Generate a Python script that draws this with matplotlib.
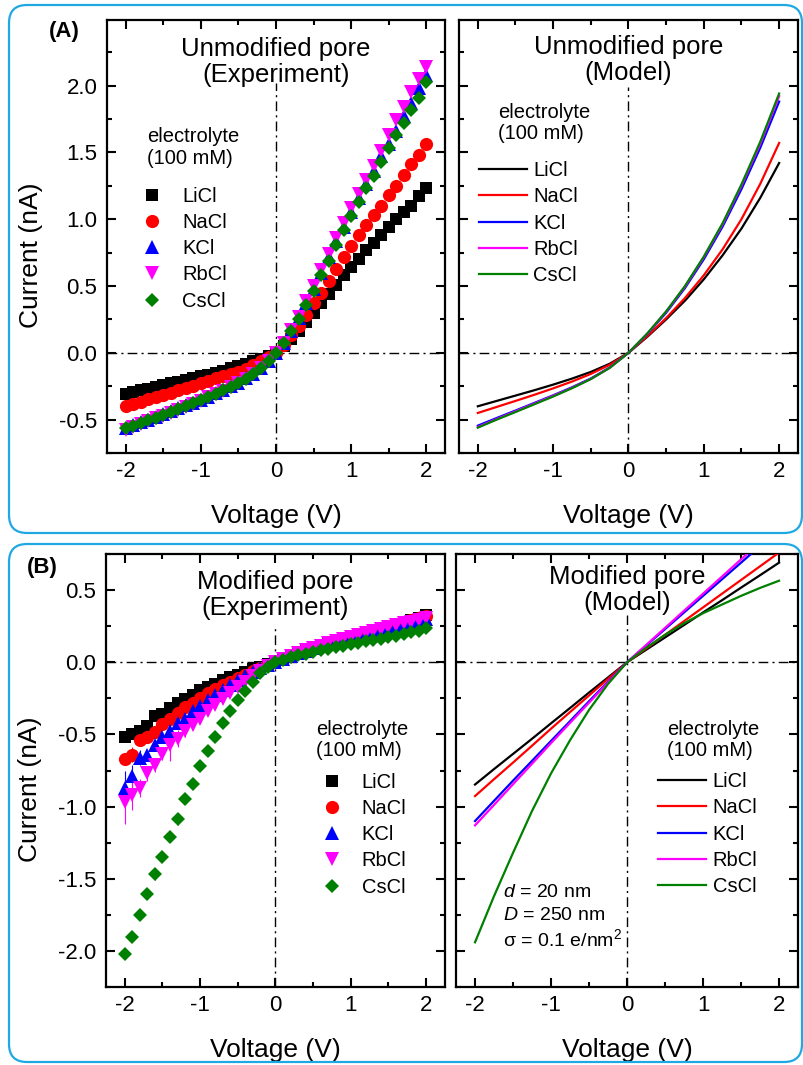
import numpy as np
import matplotlib
matplotlib.use("Agg")
import matplotlib.pyplot as plt
from matplotlib.lines import Line2D
from matplotlib.patches import FancyBboxPatch
from matplotlib.transforms import IdentityTransform
from matplotlib.ticker import MultipleLocator, FormatStrFormatter

plt.rcParams['font.family'] = ['Liberation Sans', 'DejaVu Sans']
plt.rcParams['axes.unicode_minus'] = False
plt.rcParams['mathtext.fontset'] = 'custom'
plt.rcParams['mathtext.rm'] = 'Liberation Sans'
plt.rcParams['mathtext.it'] = 'Liberation Sans:italic'

salts = ['LiCl', 'NaCl', 'KCl', 'RbCl', 'CsCl']
colors = ['black', 'red', 'blue', '#FF00FF', 'green']
markers = ['s', 'o', '^', 'v', 'D']
msizes = [8.0, 9.5, 9.5, 9.5, 7.2]

# measured voltages (V)
volt = [-2.0, -1.9, -1.8, -1.7, -1.6, -1.5, -1.4, -1.3, -1.2, -1.1, -1.0,
        -0.9, -0.8, -0.7, -0.6, -0.5, -0.4, -0.3, -0.2, -0.1, 0.0,
        0.1, 0.2, 0.3, 0.4, 0.5, 0.6, 0.7, 0.8, 0.9, 1.0,
        1.1, 1.2, 1.3, 1.4, 1.5, 1.6, 1.7, 1.8, 1.9, 2.0]
# model voltages (V)
volt_model = [-2.0, -1.75, -1.5, -1.25, -1.0, -0.75, -0.5, -0.25, 0.0,
              0.25, 0.5, 0.75, 1.0, 1.25, 1.5, 1.75, 2.0]

# (A) unmodified pore, experiment (nA)
unmod_licl = [-0.305, -0.293, -0.281, -0.268, -0.255, -0.242, -0.229, -0.216, -0.203, -0.190, -0.177,
              -0.163, -0.149, -0.133, -0.117, -0.100, -0.083, -0.064, -0.044, -0.022, 0.0,
              0.05, 0.10, 0.16, 0.23, 0.30, 0.37, 0.44, 0.51, 0.58, 0.64,
              0.70, 0.77, 0.82, 0.88, 0.94, 1.00, 1.05, 1.10, 1.17, 1.23]
unmod_nacl = [-0.400, -0.383, -0.366, -0.349, -0.333, -0.316, -0.299, -0.281, -0.263, -0.245, -0.227,
              -0.210, -0.192, -0.174, -0.157, -0.140, -0.118, -0.092, -0.064, -0.033, 0.0,
              0.06, 0.13, 0.20, 0.28, 0.37, 0.45, 0.54, 0.63, 0.715, 0.80,
              0.88, 0.955, 1.03, 1.10, 1.18, 1.25, 1.33, 1.41, 1.48, 1.56]
unmod_kcl = [-0.560, -0.540, -0.520, -0.500, -0.480, -0.460, -0.438, -0.416, -0.394, -0.372, -0.350,
             -0.327, -0.303, -0.278, -0.252, -0.225, -0.192, -0.155, -0.110, -0.058, 0.0,
             0.07, 0.165, 0.26, 0.37, 0.48, 0.60, 0.715, 0.835, 0.945, 1.05,
             1.16, 1.26, 1.36, 1.47, 1.56, 1.66, 1.77, 1.87, 1.98, 2.08]
unmod_rbcl = [-0.575, -0.553, -0.532, -0.512, -0.491, -0.470, -0.448, -0.425, -0.403, -0.380, -0.357,
              -0.333, -0.309, -0.283, -0.256, -0.228, -0.195, -0.157, -0.112, -0.059, 0.0,
              0.075, 0.17, 0.27, 0.39, 0.50, 0.62, 0.74, 0.86, 0.97, 1.08,
              1.19, 1.29, 1.40, 1.51, 1.63, 1.74, 1.84, 1.95, 2.05, 2.14]
unmod_cscl = [-0.565, -0.545, -0.525, -0.505, -0.485, -0.463, -0.441, -0.419, -0.397, -0.374, -0.352,
              -0.329, -0.305, -0.280, -0.254, -0.227, -0.194, -0.156, -0.111, -0.058, 0.0,
              0.07, 0.16, 0.25, 0.36, 0.46, 0.58, 0.69, 0.81, 0.92, 1.02,
              1.13, 1.23, 1.32, 1.43, 1.53, 1.63, 1.72, 1.82, 1.91, 2.03]
unmod_err = [0.015, 0.015, 0.015, 0.015, 0.015, 0.015, 0.015, 0.015, 0.015, 0.015, 0.015,
             0.012, 0.012, 0.012, 0.012, 0.012, 0.01, 0.01, 0.01, 0.01, 0.01,
             0.01, 0.01, 0.012, 0.012, 0.015, 0.015, 0.015, 0.018, 0.018, 0.02,
             0.02, 0.02, 0.022, 0.022, 0.025, 0.025, 0.025, 0.028, 0.03, 0.03]

# (A) unmodified pore, model (nA)
unmod_model_licl = [-0.40, -0.36, -0.32, -0.28, -0.238, -0.193, -0.143, -0.082, 0.0,
                    0.12, 0.25, 0.39, 0.55, 0.73, 0.93, 1.16, 1.42]
unmod_model_nacl = [-0.45, -0.405, -0.36, -0.314, -0.266, -0.215, -0.158, -0.09, 0.0,
                    0.125, 0.26, 0.41, 0.58, 0.775, 1.00, 1.265, 1.57]
unmod_model_kcl = [-0.545, -0.488, -0.432, -0.375, -0.318, -0.258, -0.192, -0.11, 0.0,
                   0.14, 0.30, 0.485, 0.70, 0.945, 1.225, 1.535, 1.88]
unmod_model_rbcl = [-0.555, -0.496, -0.438, -0.38, -0.322, -0.262, -0.195, -0.112, 0.0,
                    0.143, 0.308, 0.495, 0.715, 0.962, 1.25, 1.565, 1.92]
unmod_model_cscl = [-0.56, -0.50, -0.443, -0.385, -0.327, -0.265, -0.197, -0.113, 0.0,
                    0.145, 0.31, 0.50, 0.72, 0.97, 1.26, 1.58, 1.94]

# (B) modified pore, experiment (nA)
mod_licl = [-0.52, -0.495, -0.475, -0.44, -0.375, -0.36, -0.32, -0.285, -0.255, -0.225, -0.195,
            -0.17, -0.148, -0.125, -0.105, -0.085, -0.065, -0.047, -0.03, -0.014, 0.0,
            0.02, 0.04, 0.06, 0.08, 0.10, 0.115, 0.13, 0.145, 0.16, 0.175,
            0.19, 0.205, 0.22, 0.235, 0.25, 0.265, 0.28, 0.295, 0.31, 0.325]
mod_nacl = [-0.67, -0.64, -0.54, -0.52, -0.48, -0.43, -0.39, -0.35, -0.31, -0.28, -0.245,
            -0.215, -0.185, -0.16, -0.135, -0.11, -0.085, -0.06, -0.04, -0.02, 0.0,
            0.022, 0.042, 0.062, 0.082, 0.10, 0.117, 0.133, 0.148, 0.163, 0.178,
            0.192, 0.206, 0.221, 0.236, 0.25, 0.264, 0.278, 0.292, 0.306, 0.32]
mod_kcl = [-0.87, -0.79, -0.66, -0.645, -0.575, -0.515, -0.475, -0.42, -0.39, -0.34, -0.30,
           -0.26, -0.226, -0.19, -0.157, -0.122, -0.095, -0.065, -0.042, -0.02, 0.0,
           0.022, 0.042, 0.061, 0.08, 0.097, 0.113, 0.128, 0.143, 0.157, 0.171,
           0.185, 0.199, 0.212, 0.226, 0.239, 0.252, 0.265, 0.277, 0.29, 0.30]
mod_rbcl = [-0.97, -0.92, -0.87, -0.77, -0.71, -0.635, -0.575, -0.53, -0.475, -0.435, -0.39,
            -0.34, -0.296, -0.256, -0.215, -0.173, -0.134, -0.095, -0.058, -0.028, 0.0,
            0.023, 0.044, 0.064, 0.083, 0.10, 0.116, 0.131, 0.146, 0.161, 0.175,
            0.189, 0.203, 0.217, 0.23, 0.243, 0.256, 0.269, 0.282, 0.295, 0.308]
mod_cscl = [-2.02, -1.90, -1.75, -1.605, -1.47, -1.35, -1.21, -1.085, -0.95, -0.84, -0.72,
            -0.615, -0.515, -0.42, -0.337, -0.26, -0.196, -0.134, -0.076, -0.035, 0.0,
            0.018, 0.034, 0.048, 0.06, 0.072, 0.083, 0.094, 0.104, 0.114, 0.124,
            0.134, 0.144, 0.154, 0.164, 0.174, 0.185, 0.196, 0.207, 0.22, 0.235]
mod_err_licl = [0.03, 0.035, 0.03, 0.03, 0.025, 0.025, 0.02, 0.02, 0.02, 0.015, 0.015,
                0.015, 0.012, 0.012, 0.01, 0.01, 0.01, 0.01, 0.01, 0.01, 0.01,
                0.01, 0.01, 0.01, 0.01, 0.01, 0.01, 0.01, 0.01, 0.01, 0.012,
                0.012, 0.012, 0.012, 0.015, 0.015, 0.015, 0.015, 0.015, 0.018, 0.02]
mod_err_nacl = [0.03, 0.05, 0.04, 0.035, 0.03, 0.03, 0.025, 0.025, 0.02, 0.02, 0.018,
                0.015, 0.015, 0.012, 0.012, 0.01, 0.01, 0.01, 0.01, 0.01, 0.01,
                0.01, 0.01, 0.01, 0.01, 0.01, 0.01, 0.01, 0.01, 0.012, 0.012,
                0.012, 0.012, 0.012, 0.015, 0.015, 0.015, 0.015, 0.015, 0.018, 0.02]
mod_err_kcl = [0.12, 0.08, 0.05, 0.04, 0.035, 0.03, 0.04, 0.035, 0.03, 0.025, 0.02,
               0.02, 0.018, 0.015, 0.015, 0.012, 0.012, 0.01, 0.01, 0.01, 0.01,
               0.01, 0.01, 0.01, 0.01, 0.01, 0.01, 0.01, 0.01, 0.012, 0.012,
               0.012, 0.012, 0.012, 0.015, 0.015, 0.015, 0.015, 0.015, 0.018, 0.02]
mod_err_rbcl = [0.15, 0.10, 0.06, 0.05, 0.05, 0.045, 0.11, 0.06, 0.04, 0.035, 0.03,
                0.025, 0.02, 0.018, 0.015, 0.015, 0.012, 0.012, 0.01, 0.01, 0.01,
                0.01, 0.01, 0.01, 0.01, 0.01, 0.01, 0.01, 0.01, 0.012, 0.012,
                0.012, 0.012, 0.012, 0.015, 0.015, 0.015, 0.015, 0.015, 0.018, 0.02]
mod_err_cscl = [0.02, 0.03, 0.03, 0.035, 0.04, 0.035, 0.035, 0.04, 0.035, 0.03, 0.03,
                0.025, 0.02, 0.02, 0.015, 0.015, 0.012, 0.01, 0.01, 0.01, 0.01,
                0.01, 0.01, 0.01, 0.01, 0.01, 0.01, 0.01, 0.01, 0.01, 0.01,
                0.01, 0.01, 0.01, 0.012, 0.012, 0.012, 0.012, 0.012, 0.015, 0.015]

# (B) modified pore, model (nA)
mod_model_licl = [-0.847, -0.74, -0.635, -0.53, -0.423, -0.317, -0.21, -0.105, 0.0,
                  0.086, 0.172, 0.258, 0.345, 0.43, 0.517, 0.603, 0.69]
mod_model_nacl = [-0.927, -0.81, -0.695, -0.578, -0.46, -0.345, -0.23, -0.115, 0.0,
                  0.095, 0.19, 0.285, 0.38, 0.475, 0.57, 0.665, 0.76]
mod_model_kcl = [-1.10, -0.96, -0.82, -0.683, -0.545, -0.408, -0.27, -0.135, 0.0,
                 0.115, 0.23, 0.345, 0.46, 0.575, 0.69, 0.805, 0.92]
mod_model_rbcl = [-1.13, -0.988, -0.845, -0.703, -0.56, -0.42, -0.28, -0.14, 0.0,
                  0.119, 0.238, 0.357, 0.475, 0.594, 0.713, 0.832, 0.95]
mod_model_cscl = [-1.94, -1.62, -1.32, -1.03, -0.77, -0.54, -0.33, -0.15, 0.0,
                  0.10, 0.19, 0.27, 0.34, 0.40, 0.46, 0.515, 0.565]

unmod_exp = [unmod_licl, unmod_nacl, unmod_kcl, unmod_rbcl, unmod_cscl]
unmod_model = [unmod_model_licl, unmod_model_nacl, unmod_model_kcl, unmod_model_rbcl, unmod_model_cscl]
mod_exp = [mod_licl, mod_nacl, mod_kcl, mod_rbcl, mod_cscl]
mod_errs = [mod_err_licl, mod_err_nacl, mod_err_kcl, mod_err_rbcl, mod_err_cscl]
mod_model = [mod_model_licl, mod_model_nacl, mod_model_kcl, mod_model_rbcl, mod_model_cscl]

DASHDOT = (0, (7, 3, 1.5, 3))


def style(ax, ylim, vtop, left):
    ax.set_xlim(-2.25, 2.25)
    ax.set_ylim(*ylim)
    ax.xaxis.set_major_locator(MultipleLocator(1))
    ax.xaxis.set_minor_locator(MultipleLocator(0.5))
    ax.yaxis.set_major_locator(MultipleLocator(0.5))
    ax.yaxis.set_minor_locator(MultipleLocator(0.25))
    ax.yaxis.set_major_formatter(FormatStrFormatter('%.1f'))
    ax.tick_params(which='both', direction='in', top=True, right=True, labelsize=16, width=1.5)
    ax.tick_params(which='major', length=6.5)
    ax.tick_params(which='minor', length=3.5)
    ax.tick_params(axis='x', pad=6)
    ax.tick_params(axis='y', pad=7)
    for s in ax.spines.values():
        s.set_linewidth(1.6)
    ax.axhline(0, color='black', lw=1.0, ls=DASHDOT, zorder=1)
    ax.axvline(0, ymax=vtop, color='black', lw=1.0, ls=DASHDOT, zorder=1)
    ax.set_xlabel('Voltage (V)', fontsize=19)
    ax.xaxis.set_label_coords(0.5, -0.117)
    if left:
        ax.set_ylabel('Current (nA)', fontsize=19)
        ax.yaxis.set_label_coords(-0.19, 0.457)
    else:
        ax.tick_params(labelleft=False)


def legend_title(ax, x, y):
    ax.text(x, y, 'electrolyte\n(100 mM)', transform=ax.transAxes, fontsize=14.5,
            ha='left', va='center', linespacing=1.15)


fig = plt.figure(figsize=(8.04, 10.65), dpi=100)
ax_a1 = fig.add_axes([0.1331, 0.5746, 0.4204, 0.4066])
ax_a2 = fig.add_axes([0.5709, 0.5746, 0.4216, 0.4066])
ax_b1 = fig.add_axes([0.1318, 0.0732, 0.4216, 0.4066])
ax_b2 = fig.add_axes([0.5672, 0.0732, 0.4254, 0.4066])

marker_handles = [Line2D([], [], ls='none', marker=m, color=c, ms=s, mew=0)
                  for m, c, s in zip(markers, colors, msizes)]
line_handles = [Line2D([], [], color=c, lw=1.6) for c in colors]

# --- (A) experiment
for y, c, m, s in zip(unmod_exp, colors, markers, msizes):
    ax_a1.errorbar(volt, y, yerr=unmod_err, fmt=m, color=c, ms=s, mew=0,
                   elinewidth=0.8, capsize=3, capthick=0.8, zorder=3)
style(ax_a1, (-0.75, 2.49), 0.855, True)
ax_a1.text(0.5, 0.903, 'Unmodified pore\n(Experiment)', transform=ax_a1.transAxes,
           fontsize=18.5, ha='center', va='center', linespacing=1.1)
legend_title(ax_a1, 0.118, 0.7055)
ax_a1.legend(marker_handles, salts, loc='center left', bbox_to_anchor=(0.1036, 0.472),
             frameon=False, fontsize=14.5, handlelength=1.0, handletextpad=1.0,
             labelspacing=0.36, borderpad=0, borderaxespad=0)

# --- (A) model
for y, c in zip(unmod_model, colors):
    ax_a2.plot(volt_model, y, color=c, lw=1.6, zorder=3)
style(ax_a2, (-0.75, 2.49), 0.846, False)
ax_a2.text(0.5, 0.908, 'Unmodified pore\n(Model)', transform=ax_a2.transAxes,
           fontsize=18.5, ha='center', va='center', linespacing=1.1)
legend_title(ax_a2, 0.115, 0.762)
ax_a2.legend(line_handles, salts, loc='center left', bbox_to_anchor=(0.059, 0.531),
             frameon=False, fontsize=14.5, handlelength=2.4, handletextpad=0.3,
             labelspacing=0.36, borderpad=0, borderaxespad=0)

# --- (B) experiment
for y, e, c, m, s in zip(mod_exp, mod_errs, colors, markers, msizes):
    ax_b1.errorbar(volt, y, yerr=e, fmt=m, color=c, ms=s, mew=0,
                   elinewidth=0.8, capsize=3, capthick=0.8, zorder=3)
style(ax_b1, (-2.25, 0.75), 0.836, True)
ax_b1.text(0.5, 0.906, 'Modified pore\n(Experiment)', transform=ax_b1.transAxes,
           fontsize=18.5, ha='center', va='center', linespacing=1.1)
legend_title(ax_b1, 0.619, 0.570)
ax_b1.legend(marker_handles, salts, loc='center left', bbox_to_anchor=(0.636, 0.352),
             frameon=False, fontsize=14.5, handlelength=1.0, handletextpad=1.0,
             labelspacing=0.36, borderpad=0, borderaxespad=0)

# --- (B) model
for y, c in zip(mod_model, colors):
    ax_b2.plot(volt_model, y, color=c, lw=1.6, zorder=3)
style(ax_b2, (-2.25, 0.75), 0.86, False)
ax_b2.text(0.5, 0.916, 'Modified pore\n(Model)', transform=ax_b2.transAxes,
           fontsize=18.5, ha='center', va='center', linespacing=1.1)
legend_title(ax_b2, 0.616, 0.570)
ax_b2.legend(line_handles, salts, loc='center left', bbox_to_anchor=(0.591, 0.353),
             frameon=False, fontsize=14.5, handlelength=2.4, handletextpad=0.3,
             labelspacing=0.36, borderpad=0, borderaxespad=0)
ax_b2.text(0.1365, 0.2186, '$d$ = 20 nm', transform=ax_b2.transAxes, fontsize=14, va='center')
ax_b2.text(0.1365, 0.1663, '$D$ = 250 nm', transform=ax_b2.transAxes, fontsize=14, va='center')
ax_b2.text(0.1365, 0.111, 'σ = 0.1 e/nm$^2$', transform=ax_b2.transAxes, fontsize=14, va='center')

# panel letters
fig.text(0.0796, 0.970, '(A)', fontsize=16, fontweight='bold', ha='center', va='center')
fig.text(0.0529, 0.4676, '(B)', fontsize=16, fontweight='bold', ha='center', va='center')

# rounded blue frames (pixel coordinates)
for x0, y0, w, h in [(9, 532, 793, 528), (9, 3, 793, 518)]:
    frame = FancyBboxPatch((x0, y0), w, h, boxstyle='round,pad=0,rounding_size=18',
                           transform=IdentityTransform(), fill=False,
                           edgecolor='#1FA8E2', linewidth=1.6)
    fig.add_artist(frame)

fig.savefig('out.png', dpi=100)
